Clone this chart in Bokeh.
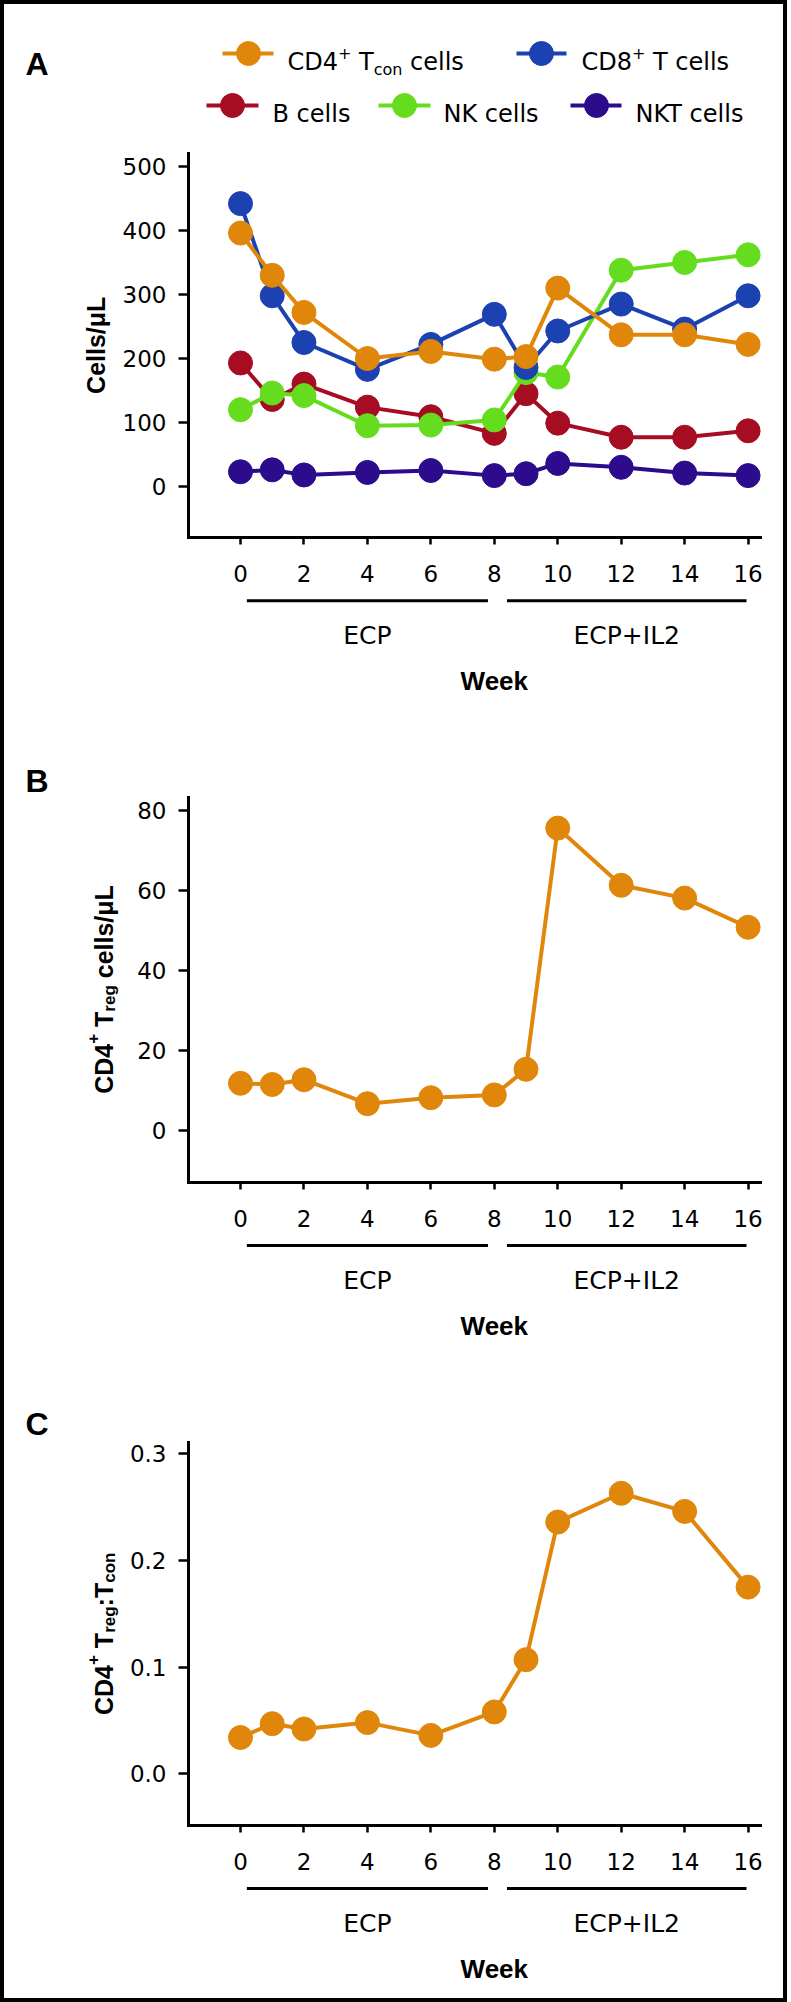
import math
from bokeh.plotting import figure
from bokeh.models import Range1d, LinearAxis, FixedTicker, NumeralTickFormatter
from bokeh.core.properties import value
from bokeh.embed import file_html
from bokeh.resources import INLINE

# ---------------- data ----------------
weeks = [0, 1, 2, 4, 6, 8, 9, 10, 12, 14, 16]
week_ticks = [0, 2, 4, 6, 8, 10, 12, 14, 16]

cd4_tcon = [396, 330, 272, 200, 211, 199, 203, 310, 237, 237, 222]
cd8_t = [442, 298, 225, 183, 222, 269, 186, 243, 285, 246, 298]
b_cells = [193, 136, 160, 124, 109, 83, 145, 99, 77, 77, 87]
nk_cells = [120, 146, 142, 95, 96, 104, 178, 171, 338, 350, 362]
nkt_cells = [23, 26, 18, 22, 25, 17, 20, 36, 30, 21, 17]

treg = [11.8, 11.5, 12.7, 6.7, 8.2, 8.9, 15.3, 75.6, 61.3, 58.1, 50.8]
treg_tcon_ratio = [0.034, 0.047, 0.042, 0.048, 0.036, 0.058, 0.107, 0.236, 0.263, 0.246, 0.175]

yticks_a = [0, 100, 200, 300, 400, 500]
yticks_b = [0, 20, 40, 60, 80]
yticks_c = [0.0, 0.1, 0.2, 0.3]

phase_labels = ["ECP", "ECP+IL2"]
phase_start = [0.2, 8.4]
phase_end = [7.8, 15.95]

# ---------------- style ----------------
ORANGE = "#E0870B"
BLUE = "#1C41B0"
RED = "#A60C22"
GREEN = "#66DC1E"
PURPLE = "#2C0B8C"

W, H = 787, 2002
REG = "DejaVu Sans"
BOLDF = "Liberation Sans"

DJV = {" ": 318, "+": 838, "4": 636, "8": 636, "B": 686, "C": 698, "D": 770, "K": 656,
       "N": 748, "T": 611, "c": 550, "o": 612, "n": 634, "e": 615, "l": 278, "s": 521}
ARB = {" ": 278, "+": 584, "/": 278, ":": 333, "4": 556, "8": 556, "C": 722, "D": 722,
       "L": 611, "T": 611, "c": 556, "e": 556, "g": 611, "l": 278, "n": 611, "o": 611,
       "r": 389, "s": 556, "\u03bc": 576}


def tlen(s, size, table):
    return sum(table.get(ch, 600) for ch in s) / 1000.0 * size


def lin_range(v0, p0, v1, p1, lo_px, hi_px):
    k = (v1 - v0) / (p1 - p0)
    return Range1d(start=v0 + (lo_px - p0) * k, end=v0 + (hi_px - p0) * k)


p = figure(width=W, height=H, x_range=Range1d(0, W), y_range=Range1d(H, 0),
           x_axis_type=None, y_axis_type=None, toolbar_location=None,
           output_backend="svg", min_border=0, title=None)
p.outline_line_color = "black"
p.outline_line_width = 7
p.background_fill_color = "white"
p.border_fill_color = "white"

p.extra_x_ranges = {"wk": lin_range(0, 240, 16, 747.6, 0, W)}
XLO, XHI = -1.64, 16.4

panels = [
    dict(name="A", v0=0, p0=486, v1=500, p1=166, ylim=(-80, 520), ticks=yticks_a,
         fmt="0", letter_y=63, lab_x=95),
    dict(name="B", v0=0, p0=1130, v1=80, p1=810, ylim=(-13, 83.3), ticks=yticks_b,
         fmt="0", letter_y=780, lab_x=103),
    dict(name="C", v0=0, p0=1773.3, v1=0.3, p1=1453.3, ylim=(-0.0485, 0.311), ticks=yticks_c,
         fmt="0.0", letter_y=1423, lab_x=103),
]

for P in panels:
    p.extra_y_ranges[P["name"]] = lin_range(P["v0"], P["p0"], P["v1"], P["p1"], H, 0)


def to_px(P, v):
    return P["p0"] + (v - P["v0"]) * (P["p1"] - P["p0"]) / (P["v1"] - P["v0"])


def style_axis(ax, tick_out):
    ax.axis_line_width = 3
    ax.axis_line_cap = "square"
    ax.major_tick_line_width = 2.5
    ax.major_tick_out = tick_out
    ax.major_tick_in = 0
    ax.minor_tick_out = 0
    ax.minor_tick_in = 0
    ax.major_label_text_font = REG
    ax.major_label_text_font_size = "23px"
    ax.major_label_text_color = "black"


def hpieces(x0, base_y, pieces, font):
    x = x0
    for txt, size, dy in pieces:
        lead = len(txt) - len(txt.lstrip(" "))
        x += tlen(" " * lead, size, DJV)
        core = txt.strip(" ")
        p.text(x=[x], y=[base_y + dy], text=[core], text_font=value(font),
               text_font_size=f"{size}px", text_align="left", text_baseline="alphabetic",
               text_color="black")
        x += tlen(core, size, DJV)
        trail = len(txt) - len(txt.rstrip(" "))
        x += tlen(" " * trail, size, DJV)


def vpieces(base_x, center_y, pieces):
    total = sum(tlen(t, s, ARB) for t, s, d in pieces)
    y = center_y + total / 2.0
    for txt, size, dx in pieces:
        lead = len(txt) - len(txt.lstrip(" "))
        y -= tlen(" " * lead, size, ARB)
        core = txt.strip(" ")
        p.text(x=[base_x + dx], y=[y], text=[core], angle=math.pi / 2,
               text_font=value(BOLDF), text_font_size=f"{size}px", text_font_style="bold",
               text_align="left", text_baseline="alphabetic", text_color="black")
        y -= tlen(core, size, ARB)


ylabels = {
    "A": [("Cells/\u03bcL", 25, 0)],
    "B": [("CD4", 25, 0), ("+", 17, -11), (" T", 25, 0), ("reg", 17, 6), (" cells/\u03bcL", 25, 0)],
    "C": [("CD4", 25, 0), ("+", 17, -11), (" T", 25, 0), ("reg", 17, 6), (":T", 25, 0), ("con", 17, 6)],
}

for P in panels:
    n = P["name"]
    ylo, yhi = P["ylim"]
    xa = LinearAxis(x_range_name="wk", y_range_name=n, fixed_location=ylo, bounds=(XLO, XHI),
                    ticker=FixedTicker(ticks=week_ticks))
    style_axis(xa, 7)
    xa.major_label_standoff = 20
    p.add_layout(xa, "below")
    ya = LinearAxis(x_range_name="wk", y_range_name=n, fixed_location=XLO, bounds=(ylo, yhi),
                    ticker=FixedTicker(ticks=P["ticks"]), formatter=NumeralTickFormatter(format=P["fmt"]))
    style_axis(ya, 10)
    ya.major_label_standoff = 12
    p.add_layout(ya, "left")

    bottom = to_px(P, ylo)
    top = to_px(P, yhi)
    # phase bars and labels
    p.segment(x0=phase_start, x1=phase_end, y0=[bottom + 63] * 2, y1=[bottom + 63] * 2,
              x_range_name="wk", line_width=3, line_color="black")
    p.text(x=[(a + b) / 2 for a, b in zip(phase_start, phase_end)], y=[bottom + 97.5] * 2,
           text=phase_labels, x_range_name="wk", text_font=value(REG), text_font_size="25px",
           text_align="center", text_baseline="alphabetic", text_color="black")
    p.text(x=[(week_ticks[0] + week_ticks[-1]) / 2], y=[bottom + 143.5], text=["Week"],
           x_range_name="wk", text_font=value(BOLDF), text_font_size="26px", text_font_style="bold",
           text_align="center", text_baseline="alphabetic", text_color="black")
    # panel letter
    p.text(x=[25], y=[P["letter_y"]], text=[n], text_font=value(BOLDF),
           text_font_size="32px", text_font_style="bold", text_align="left",
           text_baseline="alphabetic", text_color="black")
    # y axis title
    vpieces(P["lab_x"], (bottom + top) / 2.0, ylabels[n])

# ---------------- series ----------------
series_a = [
    (nkt_cells, PURPLE),
    (b_cells, RED),
    (nk_cells, GREEN),
    (cd8_t, BLUE),
    (cd4_tcon, ORANGE),
]
for vals, col in series_a:
    p.line(weeks, vals, x_range_name="wk", y_range_name="A", line_color=col, line_width=4)
    p.scatter(weeks, vals, x_range_name="wk", y_range_name="A", size=24, fill_color=col,
              line_color=col)

p.line(weeks, treg, x_range_name="wk", y_range_name="B", line_color=ORANGE, line_width=4)
p.scatter(weeks, treg, x_range_name="wk", y_range_name="B", size=24, fill_color=ORANGE, line_color=ORANGE)

p.line(weeks, treg_tcon_ratio, x_range_name="wk", y_range_name="C", line_color=ORANGE, line_width=4)
p.scatter(weeks, treg_tcon_ratio, x_range_name="wk", y_range_name="C", size=24, fill_color=ORANGE,
          line_color=ORANGE)

# ---------------- legend ----------------
legend_items = [
    # (pieces, color, line x0, line x1, marker x, text x, marker y, baseline y)
    ([("CD4", 24, 0), ("+", 16, -9), (" T", 24, 0), ("con", 16, 7), (" cells", 24, 0)], ORANGE, 222, 273, 248, 287, 53, 61.7),
    ([("CD8", 24, 0), ("+", 16, -9), (" T cells", 24, 0)], BLUE, 516, 566, 541, 581, 53, 61.7),
    ([("B cells", 24, 0)], RED, 206, 258, 232, 272, 105, 113.3),
    ([("NK cells", 24, 0)], GREEN, 378, 430, 404, 443, 105, 113.3),
    ([("NKT cells", 24, 0)], PURPLE, 570, 621, 596, 635, 105, 113.3),
]
for pieces, col, lx0, lx1, mx, tx, my, by in legend_items:
    p.segment(x0=[lx0], x1=[lx1], y0=[my], y1=[my], line_color=col, line_width=4)
    p.scatter(x=[mx], y=[my], size=24, fill_color=col, line_color=col)
    hpieces(tx, by, pieces, REG)

open("out.html", "w").write(file_html(p, INLINE))
